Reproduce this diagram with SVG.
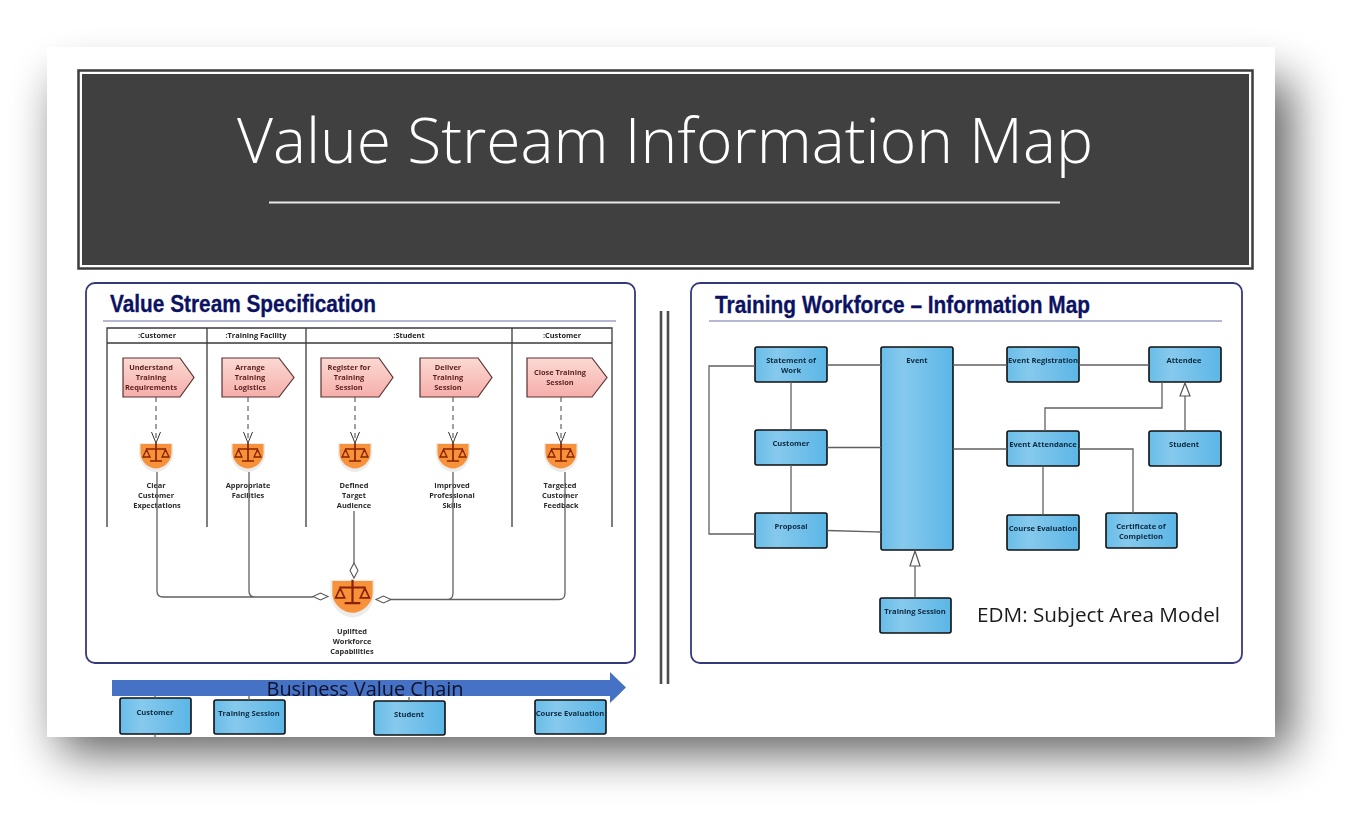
<svg xmlns="http://www.w3.org/2000/svg" width="1370" height="832" viewBox="0 0 1370 832">
<style>
.sans{font-family:"Open Sans","Noto Sans","Liberation Sans",sans-serif}
.panel{fill:#fff;stroke:#35397c;stroke-width:1.8}
.ph{font-family:"Liberation Sans",Arial,sans-serif;font-weight:700;font-size:24px;fill:#0c1263;stroke:#0c1263;stroke-width:.3}
.rule{stroke:#6f72a8;stroke-width:1.2}
.lane{fill:none;stroke:#3a3a3a;stroke-width:1.3}
.lh{font-family:"Open Sans","Noto Sans",sans-serif;font-weight:700;font-size:7.4px;fill:#222;text-anchor:middle}
.act{fill:url(#pink);stroke:#5a3030;stroke-width:1.2}
.at{font-family:"Open Sans","Noto Sans",sans-serif;font-weight:700;font-size:7.4px;fill:#5a1f1f;text-anchor:middle}
.gl{font-family:"Open Sans","Noto Sans",sans-serif;font-weight:700;font-size:7.4px;fill:#2a2a2a;text-anchor:middle}
.ent{fill:url(#blue);stroke:#111;stroke-width:1.6}
.et{font-family:"Open Sans","Noto Sans",sans-serif;font-weight:700;font-size:7.6px;fill:#0c2a40;text-anchor:middle}
.c{fill:none;stroke:#606060;stroke-width:1.3}
.d{fill:none;stroke:#555;stroke-width:1.1;stroke-dasharray:5 4}
.o{fill:none;stroke:#333;stroke-width:1}
.dia{fill:#fff;stroke:#555;stroke-width:1.1}
.tri{fill:#fff;stroke:#555;stroke-width:1.2}
</style>
<defs>
<linearGradient id="blue" x1="0" x2="1" y1="0" y2="0"><stop offset="0" stop-color="#68bde8"/><stop offset=".3" stop-color="#86c9ed"/><stop offset="1" stop-color="#5cb6e6"/></linearGradient>
<linearGradient id="pink" x1="0" x2="0" y1="0" y2="1"><stop offset="0" stop-color="#fbd9d3"/><stop offset="1" stop-color="#f6aeaa"/></linearGradient>
<filter id="shadow" x="-10%" y="-20%" width="120%" height="140%"><feGaussianBlur stdDeviation="24"/></filter>
<filter id="soft" x="-2%" y="-2%" width="104%" height="104%"><feGaussianBlur stdDeviation="0.3"/></filter>
<g id="shield">
<path d="M-17 -1 H17 V10 C17 20 8 28 0 28 C-8 28 -17 20 -17 10 Z" fill="#ececec"/>
<path d="M-15.500 0 H15.500 V9 C15.500 18 7 24.500 0 24.500 C-7 24.500 -15.500 18 -15.500 9 Z" fill="#f7923a"/>
<g fill="none" stroke="#8a2200" stroke-width="1.300">
<path d="M0 -1 V17 M-6 17 H6 M-10 5 H10" stroke-width="1.700"/>
<path d="M-9.500 5.500 L-13 13 H-6 Z M9.500 5.500 L13 13 H6 Z"/>
</g>
</g>
<path id="vee" d="M-4.500 -11 L0 0 L4.500 -11" class="o"/>
</defs>
<rect width="1370" height="832" fill="#fff"/>
<rect x="60" y="80" width="1230" height="672" fill="#000" opacity=".65" filter="url(#shadow)"/>
<rect x="47" y="47" width="1228" height="690" fill="#fff"/>

<g id="banner">
<rect x="78.500" y="70.500" width="1174" height="198" fill="#fff" stroke="#3c3c3c" stroke-width="2.500"/>
<rect x="82" y="74" width="1167" height="191" fill="#404040"/>
<text class="sans" x="665" y="163" font-size="62" font-weight="300" fill="#fff" text-anchor="middle" textLength="856" lengthAdjust="spacingAndGlyphs">Value Stream Information Map</text>
<line x1="269" y1="202.500" x2="1060" y2="202.500" stroke="#e8e8e8" stroke-width="1.800"/>
</g>

<g id="separator"><path d="M661 311 V684 M668 311 V684" stroke="#4d4d4d" stroke-width="2.600" fill="none"/></g>

<g id="panel-left">
<rect class="panel" x="86" y="283" width="549" height="380" rx="9"/>
<text class="ph" x="110" y="312" textLength="266" lengthAdjust="spacingAndGlyphs">Value Stream Specification</text>
<line class="rule" x1="103" y1="321" x2="616" y2="321"/>
</g>

<g id="panel-right">
<rect class="panel" x="691" y="283" width="551" height="380" rx="9"/>
<text class="ph" x="715" y="313" textLength="375" lengthAdjust="spacingAndGlyphs">Training Workforce – Information Map</text>
<line class="rule" x1="709" y1="321" x2="1222" y2="321"/>
</g>

<g filter="url(#soft)">
<g id="lanes">
<path class="lane" d="M107 527 V328 H612 V527 M107 343 H612 M207 328 V527 M306 328 V527 M512 328 V527"/>
<text class="lh" x="157" y="338">:Customer</text>
<text class="lh" x="256" y="338">:Training Facility</text>
<text class="lh" x="409" y="338">:Student</text>
<text class="lh" x="562" y="338">:Customer</text>
</g>

<g id="act-understand"><path class="act" d="M123 358 H180 L194 377.500 L180 397 H123 Z"/><text class="at" x="151" y="370">Understand</text><text class="at" x="151" y="380">Training</text><text class="at" x="151" y="390">Requirements</text></g>
<g id="act-arrange"><path class="act" d="M222 358 H279 L294 377.500 L279 397 H222 Z"/><text class="at" x="250" y="370">Arrange</text><text class="at" x="250" y="380">Training</text><text class="at" x="250" y="390">Logistics</text></g>
<g id="act-register"><path class="act" d="M321 358 H379 L393 377.500 L379 397 H321 Z"/><text class="at" x="349" y="370">Register for</text><text class="at" x="349" y="380">Training</text><text class="at" x="349" y="390">Session</text></g>
<g id="act-deliver"><path class="act" d="M420 358 H478 L492 377.500 L478 397 H420 Z"/><text class="at" x="448" y="370">Deliver</text><text class="at" x="448" y="380">Training</text><text class="at" x="448" y="390">Session</text></g>
<g id="act-close"><path class="act" d="M527 358 H592 L607 377.500 L592 397 H527 Z"/><text class="at" x="560" y="375">Close Training</text><text class="at" x="560" y="385">Session</text></g>

<g id="goal-clear"><use href="#shield" x="156" y="444"/><text class="gl" x="156" y="488">Clear</text><text class="gl" x="156" y="498">Customer</text><text class="gl" x="157" y="508">Expectations</text></g>
<g id="goal-facilities"><use href="#shield" x="248" y="444"/><text class="gl" x="248" y="488">Appropriate</text><text class="gl" x="248" y="498">Facilities</text></g>
<g id="goal-audience"><use href="#shield" x="355" y="444"/><text class="gl" x="354" y="488">Defined</text><text class="gl" x="354" y="498">Target</text><text class="gl" x="354" y="508">Audience</text></g>
<g id="goal-skills"><use href="#shield" x="453" y="444"/><text class="gl" x="452" y="488">Improved</text><text class="gl" x="452" y="498">Professional</text><text class="gl" x="452" y="508">Skills</text></g>
<g id="goal-feedback"><use href="#shield" x="561" y="444"/><text class="gl" x="560" y="488">Targeted</text><text class="gl" x="560" y="498">Customer</text><text class="gl" x="561" y="508">Feedback</text></g>
<g id="goal-uplifted"><use href="#shield" transform="translate(352.500 581) scale(1.300)"/><text class="gl" x="352" y="634">Uplifted</text><text class="gl" x="352" y="644">Workforce</text><text class="gl" x="352" y="654">Capabilities</text></g>

<g id="ent-statement"><rect class="ent" x="755" y="347" width="72" height="35" rx="2"/><text class="et" x="791" y="363">Statement of</text><text class="et" x="791" y="373">Work</text></g>
<g id="ent-customer"><rect class="ent" x="755" y="430" width="72" height="35" rx="2"/><text class="et" x="791" y="446">Customer</text></g>
<g id="ent-proposal"><rect class="ent" x="755" y="513" width="72" height="35" rx="2"/><text class="et" x="791" y="529">Proposal</text></g>
<g id="ent-event"><rect class="ent" x="881" y="347" width="72" height="203" rx="2"/><text class="et" x="917" y="363">Event</text></g>
<g id="ent-registration"><rect class="ent" x="1007" y="347" width="72" height="35" rx="2"/><text class="et" x="1043" y="363">Event Registration</text></g>
<g id="ent-attendee"><rect class="ent" x="1149" y="347" width="72" height="35" rx="2"/><text class="et" x="1184" y="363">Attendee</text></g>
<g id="ent-attendance"><rect class="ent" x="1007" y="431" width="72" height="35" rx="2"/><text class="et" x="1043" y="447">Event Attendance</text></g>
<g id="ent-student"><rect class="ent" x="1149" y="431" width="72" height="35" rx="2"/><text class="et" x="1184" y="447">Student</text></g>
<g id="ent-course"><rect class="ent" x="1007" y="515" width="72" height="35" rx="2"/><text class="et" x="1043" y="531">Course Evaluation</text></g>
<g id="ent-certificate"><rect class="ent" x="1106" y="513" width="71" height="35" rx="2"/><text class="et" x="1141" y="529">Certificate of</text><text class="et" x="1141" y="539">Completion</text></g>
<g id="ent-training"><rect class="ent" x="880" y="598" width="71" height="35" rx="2"/><text class="et" x="915" y="614">Training Session</text></g>

<g id="chain-arrow">
<path d="M112 680 H610 V672 L626 687.500 L610 703 V696 H112 Z" fill="#4472c4"/>
</g>
<g id="chain-customer"><rect class="ent" x="120" y="698" width="71" height="36" rx="2"/><text class="et" x="155" y="715">Customer</text></g>
<g id="chain-training"><rect class="ent" x="214" y="700" width="71" height="34" rx="2"/><text class="et" x="249" y="716">Training Session</text></g>
<g id="chain-student"><rect class="ent" x="374" y="701" width="71" height="34" rx="2"/><text class="et" x="409" y="717">Student</text></g>
<g id="chain-course"><rect class="ent" x="535" y="700" width="71" height="34" rx="2"/><text class="et" x="570" y="716">Course Evaluation</text></g>

<g id="connectors">
<path class="d" d="M156 397 V441 M248 397 V441 M355 397 V441 M453 397 V441 M561 397 V441"/>
<use href="#vee" x="156" y="443"/><use href="#vee" x="248" y="443"/><use href="#vee" x="355" y="443"/><use href="#vee" x="453" y="443"/><use href="#vee" x="561" y="443"/>
<path class="c" d="M157 472 V591 Q157 597 163 597 H313 M249 472 V591 Q249 597 255 597"/>
<path class="c" d="M391 599.500 H559 Q565 599.500 565 593 V472 M453 472 V593 Q453 599.500 447 599.500"/>
<path class="c" d="M354 511 V563"/>
<path class="dia" d="M313 596.500 L320.500 593 L328 596.500 L320.500 600 Z"/>
<path class="dia" d="M376 599.500 L383.500 596 L391 599.500 L383.500 603 Z"/>
<path class="dia" d="M354 563 L358 570.500 L354 578 L350 570.500 Z"/>
<path class="c" d="M755 366 H709 V534 H755 M791 382 V430 M791 465 V513 M827 365 H881 M827 447.500 H881 M827 530.500 L881 532 M953 365 H1007 M1079 365 H1149 M953 449 H1007 M1162 382 V408 H1045 V431 M1079 449 H1133 V513 M1043 466 V515 M1185 431 V396 M915 598 V566"/>
<path class="tri" d="M1185 383 L1190 396 H1180 Z"/>
<path class="tri" d="M915 551 L920 566 H910 Z"/>
<path class="c" d="M155 696 V698 M155 734 V737 M249 696 V700 M409 697 V701"/>
</g>
</g>

<text id="chain-label" class="sans" x="365" y="696" font-size="20" fill="#10102a" text-anchor="middle" textLength="197" lengthAdjust="spacingAndGlyphs">Business Value Chain</text>
<text id="edm-label" class="sans" x="977" y="622" font-size="20" fill="#1a1a1a" textLength="243" lengthAdjust="spacingAndGlyphs">EDM: Subject Area Model</text>
</svg>
